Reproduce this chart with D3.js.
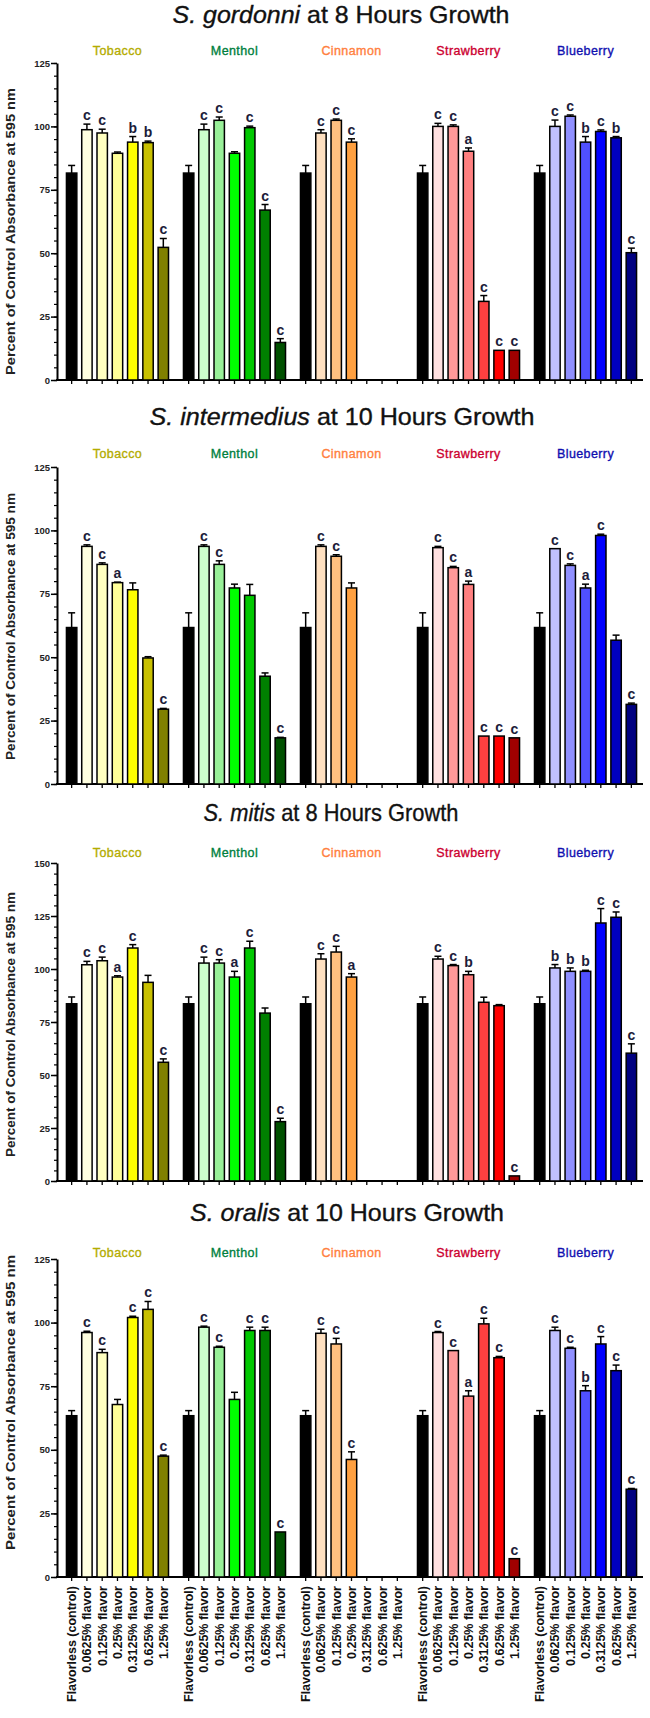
<!DOCTYPE html>
<html><head><meta charset="utf-8">
<script src="https://cdn.jsdelivr.net/npm/d3@7"></script>
<style>body{margin:0;background:#fff}</style>
</head><body>
<svg id="c" width="650" height="1718" xmlns="http://www.w3.org/2000/svg"></svg>
<script>
// ---------------- DATA ----------------
const flavors = ["Tobacco", "Menthol", "Cinnamon", "Strawberry", "Blueberry"];
const concentrations = ["Flavorless (control)", "0.0625% flavor", "0.125% flavor", "0.25% flavor", "0.3125% flavor", "0.625% flavor", "1.25% flavor"];
const species = ["S. gordonni", "S. intermedius", "S. mitis", "S. oralis"];
const growthLabels = ["at 8 Hours Growth", "at 10 Hours Growth", "at 8 Hours Growth", "at 10 Hours Growth"];
const yAxisTitle = "Percent of Control Absorbance at 595 nm";
const yMaxes = [125, 125, 150, 125];
const yTicks125 = [0, 25, 50, 75, 100, 125];
const yTicks150 = [0, 25, 50, 75, 100, 125, 150];

// flavorless control, shared by every flavor group in a panel
const controlValues = [81.6, 61.7, 83.6, 63.4];
const controlErrors = [3.0, 5.8, 3.2, 2.0];

// S. gordonni, 8 h  (rows: flavors; cols: 0.0625 .. 1.25 %)
const gordonniValues = [
  [98.7, 97.4, 89.4, 93.8, 93.6, 52.3],
  [98.7, 102.4, 89.4, 99.5, 67.0, 14.8],
  [97.4, 102.4, 93.8],
  [100.0, 100.0, 90.2, 31.0, 11.7, 11.7],
  [100.0, 104.0, 93.8, 98.0, 95.5, 50.2]
];
const gordonniErrors = [
  [2.2, 1.5, 0.5, 2.2, 0.6, 3.5],
  [2.2, 1.3, 0.6, 0.6, 2.2, 1.5],
  [1.3, 0.5, 1.3],
  [1.2, 0.6, 1.3, 2.3, 0, 0],
  [2.5, 0.5, 2.2, 0.6, 0.5, 1.8]
];
const gordonniLetters = [
  ["c", "c", "", "b", "b", "c"],
  ["c", "c", "", "c", "c", "c"],
  ["c", "c", "c"],
  ["c", "c", "a", "c", "c", "c"],
  ["c", "c", "b", "c", "b", "c"]
];

// S. intermedius, 10 h
const intermediusValues = [
  [93.7, 86.6, 79.4, 76.6, 49.7, 29.5],
  [93.7, 86.6, 77.3, 74.4, 42.5, 18.2],
  [93.7, 89.8, 77.3],
  [93.2, 85.3, 78.7, 18.9, 18.9, 18.2],
  [92.8, 86.2, 77.3, 98.0, 56.7, 31.4]
];
const intermediusErrors = [
  [0.6, 0.6, 0.2, 2.7, 0.5, 0.3],
  [0.6, 1.4, 1.5, 4.3, 1.3, 0.2],
  [0.6, 0.6, 2.0],
  [0.5, 0.5, 1.3, 0, 0, 0],
  [0, 0.6, 1.5, 0.5, 2.0, 0.5]
];
const intermediusLetters = [
  ["c", "c", "a", "", "", "c"],
  ["c", "c", "", "", "", "c"],
  ["c", "c", ""],
  ["c", "c", "a", "c", "c", "c"],
  ["c", "c", "a", "c", "", "c"]
];

// S. mitis, 8 h
const mitisValues = [
  [102.0, 103.9, 96.2, 109.9, 93.7, 56.0],
  [102.8, 102.8, 96.2, 109.9, 79.2, 28.0],
  [104.7, 108.0, 96.2],
  [104.7, 101.6, 97.3, 84.3, 82.7, 2.4],
  [100.5, 98.9, 98.9, 121.7, 124.4, 60.3]
];
const mitisErrors = [
  [1.6, 1.7, 0.6, 1.6, 3.3, 1.6],
  [2.8, 1.6, 2.7, 3.2, 2.4, 1.6],
  [2.5, 2.7, 1.6],
  [1.3, 0.5, 1.6, 2.4, 0.5, 0],
  [1.6, 1.6, 0.5, 6.8, 2.5, 4.4]
];
const mitisLetters = [
  ["c", "c", "a", "c", "", "c"],
  ["c", "c", "a", "c", "", "c"],
  ["c", "c", "a"],
  ["c", "c", "b", "", "", "c"],
  ["b", "b", "b", "c", "c", "c"]
];

// S. oralis, 10 h
const oralisValues = [
  [96.1, 88.2, 67.8, 102.0, 105.2, 47.5],
  [98.2, 90.3, 69.8, 96.9, 96.9, 17.7],
  [95.8, 91.6, 46.2],
  [96.1, 89.0, 71.1, 99.5, 86.2, 7.2],
  [96.9, 89.9, 73.2, 91.6, 81.1, 34.5]
];
const oralisErrors = [
  [0.5, 1.3, 2.0, 0.5, 3.1, 0.4],
  [0.4, 0.4, 2.8, 1.3, 1.3, 0],
  [1.6, 2.2, 3.0],
  [0.4, 0, 2.1, 2.2, 0.5, 0],
  [1.3, 0.4, 2.0, 2.9, 2.2, 0.3]
];
const oralisLetters = [
  ["c", "c", "", "c", "c", "c"],
  ["c", "c", "", "c", "c", "c"],
  ["c", "c", "c"],
  ["c", "c", "a", "c", "c", "c"],
  ["c", "c", "b", "c", "c", "c"]
];

// ---------------- STYLE / LAYOUT ----------------
const controlColor = "#000000";
const barColors = [
  ["#ffffe0", "#ffffc0", "#ffff99", "#ffff00", "#c8c000", "#808000"],
  ["#ccffcc", "#99f099", "#00ff00", "#00c800", "#008000", "#005000"],
  ["#ffe0c0", "#ffc080", "#ffa040"],
  ["#ffe0e0", "#ff9999", "#ff8080", "#ff4040", "#ff0000", "#a00000"],
  ["#c0c0ff", "#9090ff", "#5050ff", "#0000ff", "#0000c0", "#000080"]
];
const flavorLabelColors = ["#b4ac00", "#008040", "#ff8040", "#cc0030", "#1010b0"];
const layout = [
  { titleX: 341, titleY: 23,   titleW: 337, labelY: 55,   top: 63,   bottom: 380,  yt: [88, 375] },
  { titleX: 342, titleY: 425,  titleW: 385, labelY: 458,  top: 467,  bottom: 784,  yt: [493, 760] },
  { titleX: 331, titleY: 821,  titleW: 255, labelY: 857,  top: 863,  bottom: 1181, yt: [892, 1157] },
  { titleX: 347, titleY: 1221, titleW: 314, labelY: 1257, top: 1259, bottom: 1577, yt: [1255, 1550] }
];
const FONT = "'Liberation Sans', Arial, sans-serif";
const axisX = 57, axisRight = 643;

const panels = [
  { values: gordonniValues, errors: gordonniErrors, letters: gordonniLetters },
  { values: intermediusValues, errors: intermediusErrors, letters: intermediusLetters },
  { values: mitisValues, errors: mitisErrors, letters: mitisLetters },
  { values: oralisValues, errors: oralisErrors, letters: oralisLetters }
];

// ---------------- DRAW ----------------
const svg = d3.select("#c");
svg.append("rect").attr("width", 650).attr("height", 1718).attr("fill", "#fff");

const outer = d3.scaleBand().domain(flavors).range([64, 639]).paddingInner(0.086).paddingOuter(0);
const inner = d3.scaleBand().domain(concentrations).range([0, outer.bandwidth()])
  .paddingInner(0.32).paddingOuter(0.16);
const xCenter = (f, c) => outer(f) + inner(c) + inner.bandwidth() / 2;

panels.forEach((P, pi) => {
  const L = layout[pi];
  const g = svg.append("g");
  const y = d3.scaleLinear().domain([0, yMaxes[pi]]).range([L.bottom, L.top]);

  // title
  const t = g.append("text").attr("x", L.titleX).attr("y", L.titleY)
    .attr("text-anchor", "middle").attr("font-family", FONT).attr("font-size", 24)
    .attr("fill", "#111").attr("stroke", "#111").attr("stroke-width", 0.35)
    .attr("textLength", L.titleW).attr("lengthAdjust", "spacingAndGlyphs");
  t.append("tspan").attr("font-style", "italic").text(species[pi]);
  t.append("tspan").text(" " + growthLabels[pi]);

  // flavor labels
  flavors.forEach((f, fi) => {
    g.append("text")
      .attr("x", outer(f) + outer.bandwidth() / 2).attr("y", L.labelY)
      .attr("text-anchor", "middle").attr("font-family", FONT).attr("font-size", 12.5)
      .attr("fill", flavorLabelColors[fi]).attr("stroke", flavorLabelColors[fi]).attr("stroke-width", 0.35)
      .attr("letter-spacing", 0.4)
      .text(f);
  });

  // y axis title
  const ytc = (L.yt[0] + L.yt[1]) / 2;
  g.append("text")
    .attr("transform", `translate(15,${ytc}) rotate(-90)`)
    .attr("text-anchor", "middle").attr("font-family", FONT).attr("font-size", 12)
    .attr("font-weight", "bold").attr("fill", "#222")
    .attr("textLength", L.yt[1] - L.yt[0]).attr("lengthAdjust", "spacingAndGlyphs")
    .text(yAxisTitle);

  // y axis: minor ticks
  const minor = g.append("g").attr("transform", `translate(${axisX},0)`)
    .call(d3.axisLeft(y).tickValues(d3.range(0, yMaxes[pi] + 0.1, 5)).tickSize(3).tickSizeOuter(0).tickFormat(""));
  minor.select(".domain").remove();
  minor.selectAll("line").attr("stroke", "#000").attr("stroke-width", 1.2);
  // major ticks
  const ax = g.append("g").attr("transform", `translate(${axisX},0)`)
    .call(d3.axisLeft(y).tickValues(yMaxes[pi] === 150 ? yTicks150 : yTicks125).tickSize(6).tickSizeOuter(0).tickPadding(1));
  ax.select(".domain").attr("stroke", "#000").attr("stroke-width", 2);
  ax.selectAll("line").attr("stroke", "#000").attr("stroke-width", 1.5);
  ax.selectAll("text").attr("font-family", FONT).attr("font-size", 9.5).attr("font-weight", "bold").attr("fill", "#222");

  // x axis
  g.append("line").attr("x1", axisX - 1).attr("x2", axisRight).attr("y1", L.bottom).attr("y2", L.bottom)
    .attr("stroke", "#000").attr("stroke-width", 2);
  flavors.forEach(f => {
    concentrations.forEach(c => {
      g.append("line").attr("x1", xCenter(f, c)).attr("x2", xCenter(f, c))
        .attr("y1", L.bottom).attr("y2", L.bottom + 4)
        .attr("stroke", "#000").attr("stroke-width", 1.3);
    });
  });

  // bars
  flavors.forEach((f, fi) => {
    const vals = [controlValues[pi]].concat(P.values[fi]);
    const errs = [controlErrors[pi]].concat(P.errors[fi]);
    const lets = [""].concat(P.letters[fi]);
    const cols = [controlColor].concat(barColors[fi]);
    vals.forEach((v, ci) => {
      const c = concentrations[ci];
      const x0 = outer(f) + inner(c);
      const bw = inner.bandwidth();
      const cx = x0 + bw / 2;
      g.append("rect").attr("x", x0).attr("y", y(v)).attr("width", bw).attr("height", y(0) - y(v))
        .attr("fill", cols[ci]).attr("stroke", "#000").attr("stroke-width", 1.5);
      const et = y(v + errs[ci]);
      if (errs[ci] > 0) {
        g.append("line").attr("x1", cx).attr("x2", cx).attr("y1", y(v)).attr("y2", et)
          .attr("stroke", "#000").attr("stroke-width", 1.5);
        g.append("line").attr("x1", cx - 3.5).attr("x2", cx + 3.5).attr("y1", et).attr("y2", et)
          .attr("stroke", "#000").attr("stroke-width", 1.5);
      }
      if (lets[ci]) {
        g.append("text").attr("x", cx).attr("y", et - 4).attr("text-anchor", "middle")
          .attr("font-family", FONT).attr("font-size", 14).attr("font-weight", "bold")
          .attr("fill", "#1c1c3a")
          .text(lets[ci]);
      }
    });
  });

  // x labels only on last panel
  if (pi === panels.length - 1) {
    flavors.forEach(f => {
      concentrations.forEach(c => {
        g.append("text")
          .attr("transform", `translate(${xCenter(f, c) + 4.5},${L.bottom + 9}) rotate(-90)`)
          .attr("text-anchor", "end").attr("font-family", FONT).attr("font-size", 12.5)
          .attr("font-weight", "bold").attr("fill", "#111")
          .text(c);
      });
    });
  }
});
</script>
</body></html>
